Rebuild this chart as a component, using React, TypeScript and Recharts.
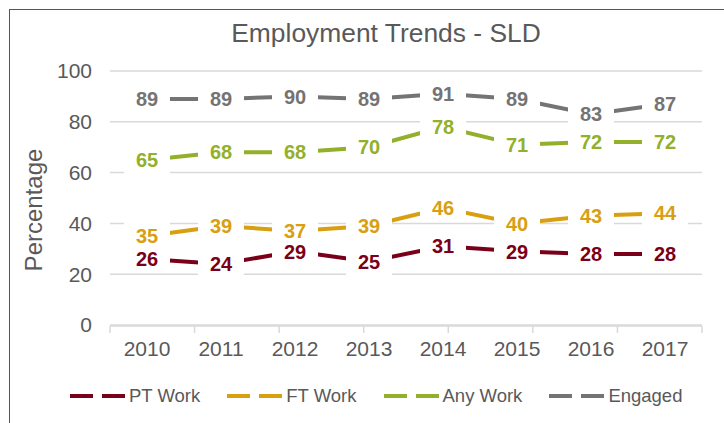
import { LineChart, Line, XAxis, YAxis, CartesianGrid, LabelList } from 'recharts'

const years = ['2010', '2011', '2012', '2013', '2014', '2015', '2016', '2017']
const ptWork = [26, 24, 29, 25, 31, 29, 28, 28]
const ftWork = [35, 39, 37, 39, 46, 40, 43, 44]
const anyWork = [65, 68, 68, 70, 78, 71, 72, 72]
const engaged = [89, 89, 90, 89, 91, 89, 83, 87]
const yTicks = [0, 20, 40, 60, 80, 100]

const series = [
  { key: 'pt', name: 'PT Work', values: ptWork, color: '#7a0019' },
  { key: 'ft', name: 'FT Work', values: ftWork, color: '#d8a011' },
  { key: 'any', name: 'Any Work', values: anyWork, color: '#93b02a' },
  { key: 'eng', name: 'Engaged', values: engaged, color: '#757373' },
]

const data = years.map((year, i) => {
  const row: Record<string, string | number> = { year }
  series.forEach((s) => {
    row[s.key] = s.values[i]
  })
  return row
})

const font = '"Liberation Sans", Arial, sans-serif'
const textColor = '#595959'
const gridColor = '#d9d9d9'

function makeLabel(color: string) {
  return (props: any) => {
    const { x, y, value } = props
    if (x == null || y == null) return null
    return (
      <g>
        <rect x={x - 23} y={y - 14} width={46} height={28} fill="#ffffff" />
        <text
          x={x}
          y={y}
          dy="0.36em"
          textAnchor="middle"
          fontFamily={font}
          fontWeight={700}
          fontSize={20}
          fill={color}
        >
          {value}
        </text>
      </g>
    )
  }
}

function YLabel(props: any) {
  const vb = props.viewBox || {}
  const x = (vb.x ?? 10) + 23
  const y = 210
  return (
    <text
      x={x}
      y={y}
      transform={`rotate(-90 ${x} ${y})`}
      textAnchor="middle"
      dy="0.36em"
      fontFamily={font}
      fontSize={24}
      fill={textColor}
    >
      Percentage
    </text>
  )
}

// boundary ticks only, no labels on this axis
function NoTick() {
  return <g />
}

function LegendRow() {
  return (
    <div
      style={{
        position: 'absolute',
        left: 70,
        top: 385,
        height: 22,
        display: 'flex',
        alignItems: 'center',
        gap: 27,
        fontFamily: font,
        fontSize: 18.5,
        color: textColor,
        whiteSpace: 'nowrap',
      }}
    >
      {series.map((s) => (
        <div key={s.key} style={{ display: 'flex', alignItems: 'center', gap: 4 }}>
          <svg width={55} height={8}>
            <line x1={0} y1={4} x2={55} y2={4} stroke={s.color} strokeWidth={4} strokeDasharray="23 9" />
          </svg>
          <span>{s.name}</span>
        </div>
      ))}
    </div>
  )
}

export default function App() {
  return (
    <div
      style={{
        position: 'absolute',
        left: 0,
        top: 0,
        width: 724,
        height: 423,
        overflow: 'hidden',
        background: '#ffffff',
      }}
    >
      <div
        style={{
          position: 'absolute',
          left: 9,
          top: 9,
          width: 800,
          height: 500,
          borderLeft: '1.5px solid #555555',
          borderTop: '1.5px solid #555555',
        }}
      />
      <div
        style={{
          position: 'absolute',
          left: 136,
          width: 500,
          top: 20,
          textAlign: 'center',
          fontFamily: font,
          fontSize: 26.4,
          lineHeight: '26px',
          color: textColor,
        }}
      >
        Employment Trends - SLD
      </div>
      <div style={{ position: 'absolute', left: 0, top: 0 }}>
        <LineChart width={724} height={423} data={data} margin={{ top: 71, right: 22, bottom: 96, left: 10 }}>
          <CartesianGrid vertical={false} stroke={gridColor} strokeWidth={1.5} />
          <XAxis
            xAxisId="edge"
            type="number"
            domain={[0, 8]}
            ticks={[0, 1, 2, 3, 4, 5, 6, 7, 8]}
            allowDataOverflow
            height={1}
            tick={<NoTick />}
            tickSize={7}
            tickLine={{ stroke: gridColor, strokeWidth: 1.5 }}
            axisLine={{ stroke: gridColor, strokeWidth: 1.5 }}
          />
          <XAxis
            dataKey="year"
            scale="band"
            height={1}
            axisLine={false}
            tickLine={false}
            tickSize={0}
            tickMargin={16}
            interval={0}
            tick={{ fontFamily: font, fontSize: 21, fill: textColor }}
          />
          <YAxis
            domain={[0, 100]}
            ticks={yTicks}
            width={100}
            axisLine={false}
            tickLine={false}
            tickSize={0}
            tickMargin={18}
            tick={{ fontFamily: font, fontSize: 21, fill: textColor }}
            label={<YLabel />}
          />
          {series.map((s) => (
            <Line
              key={s.key}
              dataKey={s.key}
              stroke={s.color}
              strokeWidth={4}
              dot={false}
              activeDot={false}
              isAnimationActive={false}
            />
          ))}
          {series.map((s) => (
            <Line
              key={`${s.key}-labels`}
              dataKey={s.key}
              stroke="none"
              dot={false}
              activeDot={false}
              legendType="none"
              isAnimationActive={false}
            >
              <LabelList dataKey={s.key} content={makeLabel(s.color)} />
            </Line>
          ))}
        </LineChart>
      </div>
      <LegendRow />
    </div>
  )
}
